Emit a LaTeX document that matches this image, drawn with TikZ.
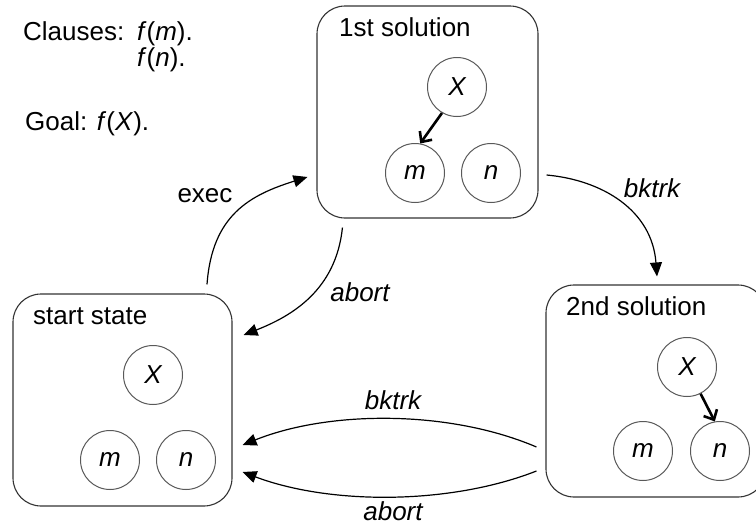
\documentclass[tikz,border=0pt]{standalone}
\usepackage{fontspec}
\setmainfont{Liberation Sans}
\usetikzlibrary{arrows.meta,calc}
\begin{document}
\begin{tikzpicture}[x=1pt,y=-1pt,
  every node/.style={font=\fontsize{26}{30}\selectfont},
  statebox/.style={draw=black!80,line width=1.1pt,rounded corners=28pt,inner sep=0pt},
  term/.style={circle,draw=black!65,line width=1pt,minimum size=59pt,inner sep=0pt,font=\fontsize{26}{30}\selectfont\itshape},
  title/.style={anchor=base west,inner sep=0pt},
  trans/.style={line width=1.2pt,-{Triangle[length=14pt,width=12pt]}},
  bind/.style={line width=2.6pt,-{Straight Barb[length=8pt,width=15pt]}},
  elabel/.style={inner sep=0pt,font=\fontsize{26}{30}\selectfont\itshape}]
\clip (0,0) rectangle (756,525);
\useasboundingbox (0,0) rectangle (756,525);

% program text
\node[title] (cl) at (23,40) {Clauses:};
\node[title] (c1) at (137,40) {\textit{f}(\textit{m}).};
\node[title] (c2) at (137,66) {\textit{f}(\textit{n}).};
\node[title] (goal) at (25,130) {Goal: \textit{f}(\textit{X}).};

% boxes
\node[statebox,minimum width=221pt,minimum height=212pt] (b1) at (427.5,112) {};
\node[statebox,minimum width=219pt,minimum height=212pt] (s) at (122.5,400) {};
\node[statebox,minimum width=220pt,minimum height=212pt] (b2) at (656,391) {};

\node[title] (t1) at (339,36) {1st solution};
\node[title] (ts) at (33,324) {start state};
\node[title] (t2) at (566,315) {2nd solution};

% terms in 1st solution
\node[term] (x1) at (457,87) {X};
\node[term] (m1) at (415,173) {m};
\node[term] (n1) at (491,173) {n};
% terms in start state
\node[term] (xs) at (153,375) {X};
\node[term] (ms) at (110,460) {m};
\node[term] (ns) at (186,460) {n};
% terms in 2nd solution
\node[term] (x2) at (687,367) {X};
\node[term] (m2) at (643,451) {m};
\node[term] (n2) at (720,451) {n};

\draw[bind] (x1.240) -- (m1.80);
\draw[bind] (x2.297) -- (n2.100);

% transitions
\draw[trans] ($(s.north)+(84.5,-9)$) .. controls (212,215) and (250,195) .. ($(b1.west)+(-9,65)$);
\draw[trans] ($(b1.south west)+(26,9)$) .. controls (336,290) and (292,316) .. ($(s.east)+(11,-65)$);
\draw[trans] ($(b1.east)+(8,63)$) .. controls (602,180) and (652,210) .. ($(b2.north)+(1,-8)$);
\draw[trans] ($(b2.west)+(-9,56)$) .. controls (450,410) and (330,410) .. ($(s.east)+(10,45)$);
\draw[trans] ($(b2.west)+(-9,80)$) .. controls (450,505) and (330,505) .. ($(s.east)+(10,72)$);

% labels
\node (lexec) at (205,196) {exec};
\node[elabel] (labt1) at (360,292) {abort};
\node[elabel] (lbk1) at (652,188) {bktrk};
\node[elabel] (lbk2) at (393,400) {bktrk};
\node[elabel] (lab2) at (393,511) {abort};
\end{tikzpicture}
\end{document}
